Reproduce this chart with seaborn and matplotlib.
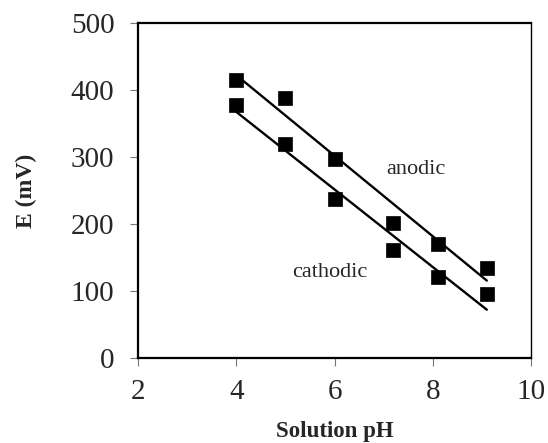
import matplotlib
matplotlib.use("Agg")
import matplotlib.pyplot as plt
import seaborn as sns
import pandas as pd

# Measured potentials versus solution pH
ph = [4.0, 5.0, 6.0, 7.2, 8.1, 9.1]
anodic_mv = [416, 389, 297, 202, 171, 134]
cathodic_mv = [378, 320, 237, 162, 121, 96]

x_ticks = [2, 4, 6, 8, 10]
y_ticks = [0, 100, 200, 300, 400, 500]

df_a = pd.DataFrame({"pH": ph, "E": anodic_mv})
df_c = pd.DataFrame({"pH": ph, "E": cathodic_mv})

sns.set_style("white")
plt.rcParams["font.family"] = ["Liberation Serif", "DejaVu Serif"]

fig = plt.figure(figsize=(5.48, 4.43), dpi=100)
ax = fig.add_axes([0.252, 0.192, 0.717, 0.755])

style = dict(ci=None, truncate=True, color="black",
             marker="s",
             scatter_kws=dict(s=100, edgecolor="black", linewidths=0.5, alpha=1),
             line_kws=dict(lw=1.7, color="black"))
sns.regplot(data=df_a, x="pH", y="E", ax=ax, **style)
sns.regplot(data=df_c, x="pH", y="E", ax=ax, **style)

ax.text(7.65, 281, "anodic", fontsize=16, ha="center", va="center")
ax.text(5.9, 128, "cathodic", fontsize=16, ha="center", va="center")

ax.set_xlim(2, 10)
ax.set_ylim(0, 500)
ax.set_xticks(x_ticks)
ax.set_yticks(y_ticks)
ax.tick_params(axis="both", labelsize=21, direction="out", length=6,
               width=0.8, color="#777777", left=True, bottom=True)
ax.tick_params(axis="x", pad=9)
ax.tick_params(axis="y", pad=11)

ax.set_xlabel("Solution pH", fontsize=16.5, fontweight="bold", labelpad=11.5)
ax.set_ylabel("E (mV)", fontsize=17, fontweight="bold", labelpad=24)

for name, sp in ax.spines.items():
    sp.set_visible(True)
    sp.set_color("black")
    sp.set_linewidth(1.6 if name != "right" else 1.0)

fig.savefig("out.png", dpi=100, facecolor="white")
